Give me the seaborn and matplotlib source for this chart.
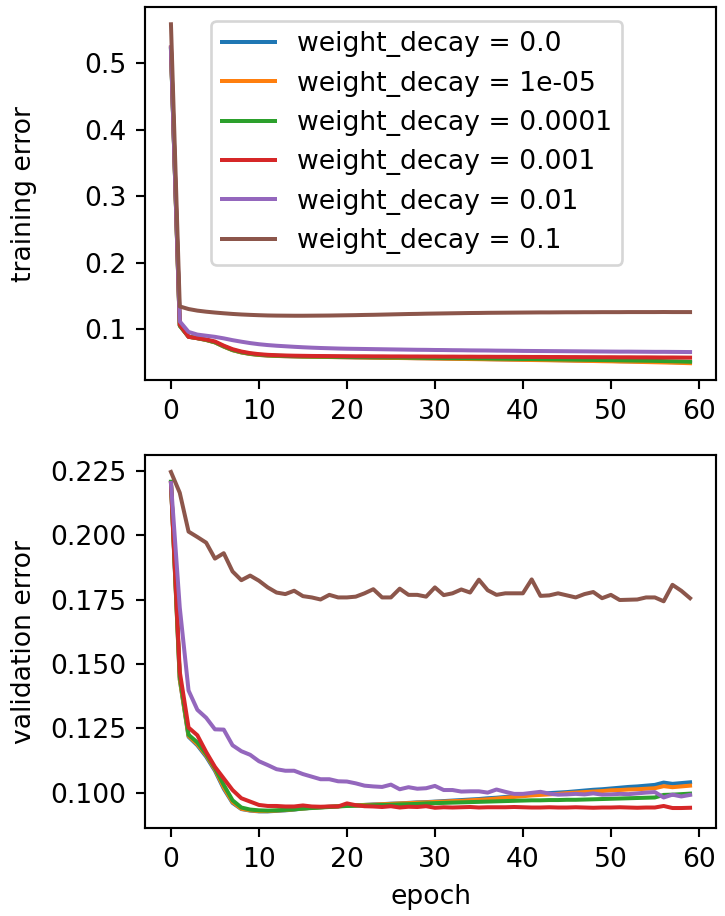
import numpy as np
import pandas as pd
import matplotlib
matplotlib.use("Agg")
import matplotlib.pyplot as plt
import seaborn as sns

epochs = list(range(60))
decays = ["0.0", "1e-05", "0.0001", "0.001", "0.01", "0.1"]
labels = [f"weight_decay = {d}" for d in decays]
colors = ["#1f77b4", "#ff7f0e", "#2ca02c", "#d62728", "#9467bd", "#8c564b"]

train_00 = [0.522, 0.1048, 0.0883, 0.0860, 0.0834, 0.0798, 0.0735, 0.0681, 0.0647, 0.0624,
            0.0609, 0.0600, 0.0594, 0.0590, 0.0587, 0.0584, 0.0582, 0.0580, 0.0578, 0.0576,
            0.0574, 0.0572, 0.0571, 0.0569, 0.0567, 0.0565, 0.0564, 0.0562, 0.0560, 0.0559,
            0.0557, 0.0555, 0.0553, 0.0551, 0.0550, 0.0548, 0.0546, 0.0544, 0.0542, 0.0540,
            0.0538, 0.0536, 0.0534, 0.0532, 0.0530, 0.0528, 0.0526, 0.0524, 0.0522, 0.0520,
            0.0518, 0.0515, 0.0513, 0.0511, 0.0508, 0.0506, 0.0503, 0.0500, 0.0497, 0.0493]
train_1e5 = [0.523, 0.1049, 0.0883, 0.0860, 0.0833, 0.0797, 0.0734, 0.0680, 0.0646, 0.0623,
             0.0608, 0.0599, 0.0593, 0.0589, 0.0586, 0.0583, 0.0581, 0.0579, 0.0577, 0.0575,
             0.0573, 0.0571, 0.0569, 0.0567, 0.0565, 0.0563, 0.0562, 0.0560, 0.0558, 0.0556,
             0.0554, 0.0552, 0.0550, 0.0548, 0.0546, 0.0544, 0.0542, 0.0540, 0.0538, 0.0536,
             0.0534, 0.0532, 0.0530, 0.0528, 0.0526, 0.0524, 0.0521, 0.0519, 0.0517, 0.0514,
             0.0512, 0.0509, 0.0507, 0.0504, 0.0501, 0.0498, 0.0495, 0.0492, 0.0488, 0.0484]
train_1e4 = [0.521, 0.1050, 0.0884, 0.0862, 0.0836, 0.0800, 0.0738, 0.0684, 0.0650, 0.0627,
             0.0612, 0.0603, 0.0597, 0.0593, 0.0590, 0.0587, 0.0585, 0.0583, 0.0581, 0.0579,
             0.0578, 0.0576, 0.0575, 0.0573, 0.0572, 0.0570, 0.0569, 0.0567, 0.0566, 0.0564,
             0.0563, 0.0561, 0.0560, 0.0558, 0.0557, 0.0555, 0.0554, 0.0552, 0.0551, 0.0549,
             0.0547, 0.0546, 0.0544, 0.0542, 0.0541, 0.0539, 0.0537, 0.0535, 0.0533, 0.0531,
             0.0529, 0.0527, 0.0525, 0.0523, 0.0521, 0.0519, 0.0516, 0.0513, 0.0510, 0.0506]
train_1e3 = [0.524, 0.1065, 0.0881, 0.0861, 0.0841, 0.0811, 0.0748, 0.0695, 0.0660, 0.0636,
             0.0620, 0.0610, 0.0604, 0.0600, 0.0597, 0.0595, 0.0593, 0.0592, 0.0591, 0.0590,
             0.0589, 0.0588, 0.0588, 0.0587, 0.0587, 0.0586, 0.0586, 0.0585, 0.0585, 0.0584,
             0.0584, 0.0583, 0.0583, 0.0582, 0.0582, 0.0581, 0.0581, 0.0580, 0.0580, 0.0579,
             0.0579, 0.0578, 0.0578, 0.0577, 0.0577, 0.0576, 0.0576, 0.0575, 0.0575, 0.0574,
             0.0574, 0.0573, 0.0573, 0.0572, 0.0572, 0.0571, 0.0570, 0.0570, 0.0569, 0.0568]
train_1e2 = [0.524, 0.1114, 0.0955, 0.0915, 0.0898, 0.0881, 0.0858, 0.0831, 0.0808, 0.0787,
             0.0770, 0.0757, 0.0747, 0.0739, 0.0731, 0.0724, 0.0718, 0.0713, 0.0709, 0.0705,
             0.0702, 0.0700, 0.0698, 0.0696, 0.0694, 0.0692, 0.0690, 0.0688, 0.0686, 0.0685,
             0.0683, 0.0682, 0.0680, 0.0679, 0.0677, 0.0676, 0.0675, 0.0673, 0.0672, 0.0671,
             0.0669, 0.0668, 0.0667, 0.0666, 0.0665, 0.0664, 0.0663, 0.0662, 0.0661, 0.0660,
             0.0659, 0.0658, 0.0658, 0.0657, 0.0656, 0.0655, 0.0655, 0.0654, 0.0653, 0.0652]
train_1e1 = [0.559, 0.1339, 0.1300, 0.1276, 0.1260, 0.1247, 0.1236, 0.1226, 0.1218, 0.1212,
             0.1207, 0.1203, 0.1201, 0.1200, 0.1199, 0.1199, 0.1200, 0.1201, 0.1202, 0.1204,
             0.1206, 0.1208, 0.1211, 0.1213, 0.1216, 0.1219, 0.1222, 0.1225, 0.1227, 0.1230,
             0.1232, 0.1234, 0.1236, 0.1238, 0.1240, 0.1241, 0.1243, 0.1244, 0.1245, 0.1246,
             0.1247, 0.1248, 0.1249, 0.1249, 0.1250, 0.1251, 0.1251, 0.1252, 0.1252, 0.1253,
             0.1253, 0.1253, 0.1254, 0.1254, 0.1254, 0.1254, 0.1255, 0.1254, 0.1254, 0.1254]

val_00 = [0.2204, 0.1440, 0.1217, 0.1184, 0.1140, 0.1085, 0.1015, 0.0960, 0.0936, 0.0930,
          0.0927, 0.0927, 0.0929, 0.0931, 0.0934, 0.0938, 0.0941, 0.0943, 0.0945, 0.0947,
          0.0949, 0.0951, 0.0952, 0.0954, 0.0955, 0.0957, 0.0958, 0.0960, 0.0962, 0.0963,
          0.0965, 0.0967, 0.0969, 0.0971, 0.0973, 0.0975, 0.0978, 0.0980, 0.0983, 0.0986,
          0.0989, 0.0992, 0.0995, 0.0998, 0.1000, 0.1002, 0.1005, 0.1008, 0.1011, 0.1013,
          0.1016, 0.1019, 0.1022, 0.1024, 0.1027, 0.1030, 0.1039, 0.1034, 0.1037, 0.1040]
val_1e5 = [0.2204, 0.1440, 0.1220, 0.1188, 0.1145, 0.1090, 0.1020, 0.0963, 0.0937, 0.0931,
           0.0928, 0.0928, 0.0930, 0.0932, 0.0935, 0.0938, 0.0941, 0.0943, 0.0945, 0.0947,
           0.0949, 0.0950, 0.0952, 0.0953, 0.0955, 0.0956, 0.0958, 0.0959, 0.0961, 0.0962,
           0.0964, 0.0965, 0.0967, 0.0968, 0.0970, 0.0972, 0.0974, 0.0977, 0.0980, 0.0983,
           0.0986, 0.0989, 0.0991, 0.0993, 0.0995, 0.0998, 0.1000, 0.1002, 0.1004, 0.1006,
           0.1009, 0.1010, 0.1012, 0.1013, 0.1015, 0.1017, 0.1025, 0.1021, 0.1024, 0.1027]
val_1e4 = [0.2209, 0.1450, 0.1225, 0.1195, 0.1150, 0.1095, 0.1030, 0.0970, 0.0942, 0.0934,
           0.0931, 0.0930, 0.0931, 0.0933, 0.0935, 0.0938, 0.0940, 0.0942, 0.0944, 0.0946,
           0.0948, 0.0949, 0.0950, 0.0951, 0.0952, 0.0953, 0.0954, 0.0955, 0.0956, 0.0958,
           0.0959, 0.0960, 0.0961, 0.0962, 0.0963, 0.0964, 0.0965, 0.0966, 0.0967, 0.0968,
           0.0969, 0.0970, 0.0970, 0.0971, 0.0971, 0.0972, 0.0972, 0.0973, 0.0974, 0.0975,
           0.0976, 0.0977, 0.0978, 0.0979, 0.0980, 0.0981, 0.0991, 0.0992, 0.0994, 0.0996]
val_1e3 = [0.2204, 0.1470, 0.1253, 0.1223, 0.1158, 0.1100, 0.1055, 0.1010, 0.0978, 0.0965,
           0.0952, 0.0948, 0.0948, 0.0946, 0.0946, 0.0950, 0.0946, 0.0945, 0.0946, 0.0946,
           0.0958, 0.0951, 0.0947, 0.0946, 0.0944, 0.0947, 0.0942, 0.0945, 0.0944, 0.0947,
           0.0941, 0.0943, 0.0942, 0.0943, 0.0944, 0.0942, 0.0943, 0.0943, 0.0943, 0.0944,
           0.0943, 0.0942, 0.0942, 0.0943, 0.0942, 0.0942, 0.0943, 0.0942, 0.0941, 0.0942,
           0.0942, 0.0943, 0.0942, 0.0941, 0.0942, 0.0942, 0.0948, 0.0940, 0.0940, 0.0941]
val_1e2 = [0.2204, 0.1720, 0.1397, 0.1322, 0.1291, 0.1246, 0.1245, 0.1184, 0.1161, 0.1147,
           0.1122, 0.1107, 0.1091, 0.1085, 0.1085, 0.1072, 0.1062, 0.1052, 0.1052, 0.1044,
           0.1043, 0.1036, 0.1027, 0.1024, 0.1022, 0.1031, 0.1013, 0.1021, 0.1015, 0.1017,
           0.1026, 0.1010, 0.1010, 0.1004, 0.1005, 0.1005, 0.1000, 0.1012, 0.1003, 0.0995,
           0.0995, 0.0999, 0.1003, 0.0996, 0.0992, 0.0993, 0.0995, 0.0993, 0.0997, 0.0992,
           0.0993, 0.0995, 0.0994, 0.0997, 0.1000, 0.1002, 0.0981, 0.0992, 0.0985, 0.0991]
val_1e1 = [0.2247, 0.2166, 0.2015, 0.1994, 0.1972, 0.1910, 0.1931, 0.1860, 0.1826, 0.1844,
           0.1824, 0.1798, 0.1778, 0.1772, 0.1785, 0.1764, 0.1759, 0.1751, 0.1769, 0.1759,
           0.1759, 0.1762, 0.1775, 0.1791, 0.1759, 0.1759, 0.1793, 0.1769, 0.1769, 0.1762,
           0.1798, 0.1768, 0.1775, 0.1790, 0.1778, 0.1828, 0.1787, 0.1769, 0.1775, 0.1775,
           0.1775, 0.1829, 0.1765, 0.1767, 0.1775, 0.1767, 0.1759, 0.1772, 0.1780, 0.1756,
           0.1769, 0.1749, 0.1750, 0.1751, 0.1759, 0.1759, 0.1744, 0.1808, 0.1785, 0.1756]

train_series = [train_00, train_1e5, train_1e4, train_1e3, train_1e2, train_1e1]
val_series = [val_00, val_1e5, val_1e4, val_1e3, val_1e2, val_1e1]


def long_frame(series_list):
    frames = []
    for lab, vals in zip(labels, series_list):
        frames.append(pd.DataFrame({"epoch": epochs, "error": vals, "run": lab}))
    return pd.concat(frames, ignore_index=True)


df_train = long_frame(train_series)
df_val = long_frame(val_series)

DPI = 192
fig = plt.figure(figsize=(725 / DPI, 916 / DPI), dpi=DPI)
ax1 = fig.add_axes([0.200, 0.585, 0.7876, 0.407])
ax2 = fig.add_axes([0.200, 0.0957, 0.7876, 0.4076])

palette = dict(zip(labels, colors))
sns.lineplot(data=df_train, x="epoch", y="error", hue="run", hue_order=labels,
             palette=palette, ax=ax1, linewidth=1.5, errorbar=None)
sns.lineplot(data=df_val, x="epoch", y="error", hue="run", hue_order=labels,
             palette=palette, ax=ax2, linewidth=1.5, errorbar=None, legend=False)

ax1.set_xlabel("")
ax1.set_ylabel("training error")
ax2.set_xlabel("epoch")
ax2.set_ylabel("validation error")

ax1.set_xticks([0, 10, 20, 30, 40, 50, 60])
ax2.set_xticks([0, 10, 20, 30, 40, 50, 60])
ax1.set_yticks([0.1, 0.2, 0.3, 0.4, 0.5])
ax1.set_yticklabels(["0.1", "0.2", "0.3", "0.4", "0.5"])
ax2.set_yticks([0.100, 0.125, 0.150, 0.175, 0.200, 0.225])
ax2.set_yticklabels(["0.100", "0.125", "0.150", "0.175", "0.200", "0.225"])

handles, labs = ax1.get_legend_handles_labels()
ax1.legend(handles, labs, loc="upper center", bbox_to_anchor=(0.476, 1.0))

ax1.yaxis.set_label_coords(-0.19, 0.5)
ax2.yaxis.set_label_coords(-0.19, 0.5)

fig.savefig("out.png", dpi=DPI)
